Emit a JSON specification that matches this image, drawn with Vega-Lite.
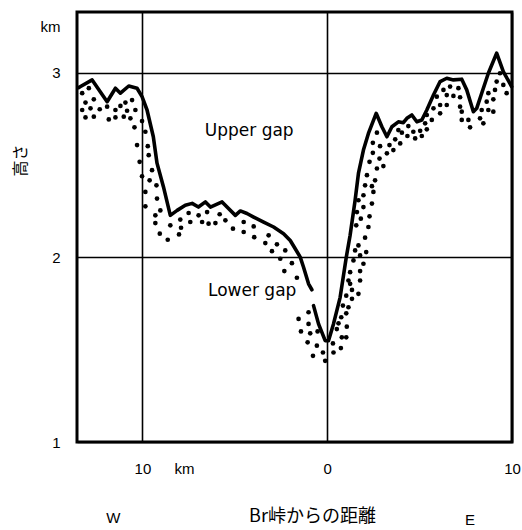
{
  "$schema": "https://vega.github.io/schema/vega-lite/v6.json",
  "autosize": {"type": "none"},
  "padding": {"left": 77, "top": 12, "right": 10, "bottom": 88},
  "width": 435,
  "height": 430,
  "background": "white",
  "config": {
    "view": {"stroke": "black", "strokeWidth": 3},
    "font": "Liberation Sans"
  },
  "datasets": {
    "profile": [
      {"x": -13.45, "h": 2.92, "seg": "a"}, {"x": -13.35, "h": 2.926, "seg": "a"}, {"x": -12.72, "h": 2.962, "seg": "a"}, {"x": -11.91, "h": 2.844, "seg": "a"},
      {"x": -11.46, "h": 2.917, "seg": "a"}, {"x": -11.19, "h": 2.89, "seg": "a"}, {"x": -10.74, "h": 2.929, "seg": "a"}, {"x": -10.29, "h": 2.917, "seg": "a"},
      {"x": -10.02, "h": 2.871, "seg": "a"}, {"x": -9.75, "h": 2.799, "seg": "a"}, {"x": -9.41, "h": 2.654, "seg": "a"}, {"x": -9.21, "h": 2.511, "seg": "a"},
      {"x": -8.86, "h": 2.382, "seg": "a"}, {"x": -8.49, "h": 2.228, "seg": "a"}, {"x": -8.12, "h": 2.255, "seg": "a"}, {"x": -7.68, "h": 2.283, "seg": "a"},
      {"x": -7.31, "h": 2.293, "seg": "a"}, {"x": -6.97, "h": 2.273, "seg": "a"}, {"x": -6.59, "h": 2.301, "seg": "a"}, {"x": -6.32, "h": 2.273, "seg": "a"},
      {"x": -5.69, "h": 2.301, "seg": "a"}, {"x": -5.34, "h": 2.265, "seg": "a"}, {"x": -4.97, "h": 2.228, "seg": "a"}, {"x": -4.7, "h": 2.252, "seg": "a"},
      {"x": -4.34, "h": 2.238, "seg": "a"}, {"x": -3.98, "h": 2.219, "seg": "a"}, {"x": -3.44, "h": 2.192, "seg": "a"}, {"x": -2.9, "h": 2.165, "seg": "a"},
      {"x": -2.36, "h": 2.129, "seg": "a"}, {"x": -2.0, "h": 2.092, "seg": "a"}, {"x": -1.73, "h": 2.047, "seg": "a"}, {"x": -1.46, "h": 2.002, "seg": "a"},
      {"x": -1.28, "h": 1.947, "seg": "a"}, {"x": -1.01, "h": 1.857, "seg": "a"}, {"x": -0.83, "h": 1.825, "seg": "a"},
      {"x": -0.74, "h": 1.739, "seg": "b"}, {"x": -0.47, "h": 1.64, "seg": "b"}, {"x": -0.11, "h": 1.549, "seg": "b"}, {"x": 0.07, "h": 1.549, "seg": "b"},
      {"x": 0.34, "h": 1.64, "seg": "b"}, {"x": 0.7, "h": 1.784, "seg": "b"}, {"x": 1.03, "h": 2.0, "seg": "b"}, {"x": 1.24, "h": 2.12, "seg": "b"},
      {"x": 1.51, "h": 2.31, "seg": "b"}, {"x": 1.69, "h": 2.455, "seg": "b"}, {"x": 1.96, "h": 2.582, "seg": "b"}, {"x": 2.23, "h": 2.672, "seg": "b"},
      {"x": 2.65, "h": 2.781, "seg": "b"}, {"x": 2.96, "h": 2.708, "seg": "b"}, {"x": 3.23, "h": 2.654, "seg": "b"}, {"x": 3.5, "h": 2.708, "seg": "b"},
      {"x": 3.85, "h": 2.735, "seg": "b"}, {"x": 4.12, "h": 2.73, "seg": "b"}, {"x": 4.31, "h": 2.754, "seg": "b"}, {"x": 4.58, "h": 2.772, "seg": "b"},
      {"x": 4.85, "h": 2.735, "seg": "b"}, {"x": 5.12, "h": 2.745, "seg": "b"}, {"x": 5.39, "h": 2.799, "seg": "b"}, {"x": 5.75, "h": 2.88, "seg": "b"},
      {"x": 6.11, "h": 2.953, "seg": "b"}, {"x": 6.47, "h": 2.971, "seg": "b"}, {"x": 6.83, "h": 2.962, "seg": "b"}, {"x": 7.28, "h": 2.966, "seg": "b"},
      {"x": 7.55, "h": 2.908, "seg": "b"}, {"x": 7.91, "h": 2.79, "seg": "b"}, {"x": 8.09, "h": 2.808, "seg": "b"}, {"x": 8.36, "h": 2.89, "seg": "b"},
      {"x": 8.72, "h": 2.998, "seg": "b"}, {"x": 9.17, "h": 3.107, "seg": "b"}, {"x": 9.53, "h": 3.007, "seg": "b"}, {"x": 9.98, "h": 2.926, "seg": "b"}
    ],
    "dots": [
      {"x": -12.9, "h": 2.917}, {"x": -13.26, "h": 2.89}, {"x": -12.63, "h": 2.857}, {"x": -13.08, "h": 2.839}, {"x": -13.26, "h": 2.799},
      {"x": -12.81, "h": 2.808}, {"x": -12.31, "h": 2.803}, {"x": -11.91, "h": 2.817}, {"x": -11.46, "h": 2.799}, {"x": -11.19, "h": 2.821},
      {"x": -10.92, "h": 2.839}, {"x": -10.56, "h": 2.853}, {"x": -10.83, "h": 2.795}, {"x": -10.38, "h": 2.799}, {"x": -13.08, "h": 2.759},
      {"x": -12.63, "h": 2.763}, {"x": -11.82, "h": 2.748}, {"x": -11.46, "h": 2.759}, {"x": -11.01, "h": 2.763}, {"x": -10.65, "h": 2.754},
      {"x": -10.02, "h": 2.739}, {"x": -10.43, "h": 2.705}, {"x": -9.84, "h": 2.681}, {"x": -10.29, "h": 2.609}, {"x": -9.71, "h": 2.603},
      {"x": -9.66, "h": 2.554}, {"x": -10.15, "h": 2.518}, {"x": -10.02, "h": 2.44}, {"x": -9.48, "h": 2.473}, {"x": -9.61, "h": 2.418},
      {"x": -9.24, "h": 2.391}, {"x": -9.84, "h": 2.355}, {"x": -9.21, "h": 2.319}, {"x": -9.84, "h": 2.277}, {"x": -9.03, "h": 2.255},
      {"x": -9.3, "h": 2.228}, {"x": -8.49, "h": 2.174}, {"x": -9.3, "h": 2.186}, {"x": -7.95, "h": 2.205}, {"x": -7.91, "h": 2.161},
      {"x": -9.06, "h": 2.129}, {"x": -8.63, "h": 2.096}, {"x": -7.5, "h": 2.241}, {"x": -7.41, "h": 2.192}, {"x": -6.96, "h": 2.228},
      {"x": -6.77, "h": 2.192}, {"x": -6.5, "h": 2.246}, {"x": -6.42, "h": 2.183}, {"x": -6.05, "h": 2.186}, {"x": -5.82, "h": 2.234},
      {"x": -5.51, "h": 2.201}, {"x": -5.1, "h": 2.156}, {"x": -4.52, "h": 2.192}, {"x": -4.52, "h": 2.138}, {"x": -3.98, "h": 2.168},
      {"x": -3.95, "h": 2.11}, {"x": -3.35, "h": 2.078}, {"x": -3.17, "h": 2.12}, {"x": -2.99, "h": 2.034}, {"x": -2.72, "h": 2.071},
      {"x": -2.27, "h": 2.038}, {"x": -2.54, "h": 1.993}, {"x": -1.91, "h": 1.969}, {"x": -2.32, "h": 1.926}, {"x": -1.64, "h": 1.89},
      {"x": -8.02, "h": 2.125},
      {"x": -1.01, "h": 1.703}, {"x": -1.55, "h": 1.667}, {"x": -1.01, "h": 1.64}, {"x": -1.42, "h": 1.599}, {"x": -0.92, "h": 1.589},
      {"x": -0.52, "h": 1.599}, {"x": -1.06, "h": 1.54}, {"x": -0.56, "h": 1.522}, {"x": -0.23, "h": 1.485}, {"x": -0.77, "h": 1.467},
      {"x": -0.11, "h": 1.44}, {"x": 0.34, "h": 1.485}, {"x": 0.74, "h": 1.509}, {"x": 0.31, "h": 1.534}, {"x": 0.79, "h": 1.567},
      {"x": 1.03, "h": 1.567}, {"x": 0.52, "h": 1.612}, {"x": 0.61, "h": 1.643}, {"x": 1.06, "h": 1.625}, {"x": 0.76, "h": 1.676},
      {"x": 1.03, "h": 1.697}, {"x": 0.85, "h": 1.739}, {"x": 1.15, "h": 1.73}, {"x": 1.03, "h": 1.793}, {"x": 1.34, "h": 1.776},
      {"x": 1.24, "h": 1.857}, {"x": 1.34, "h": 1.824}, {"x": 1.69, "h": 1.803}, {"x": 1.15, "h": 1.875}, {"x": 1.78, "h": 1.875},
      {"x": 1.24, "h": 1.92}, {"x": 1.78, "h": 1.926}, {"x": 1.42, "h": 1.984}, {"x": 1.78, "h": 2.011}, {"x": 1.96, "h": 1.966},
      {"x": 1.51, "h": 2.038}, {"x": 1.69, "h": 2.065},
      {"x": 2.11, "h": 2.029}, {"x": 2.05, "h": 2.107}, {"x": 1.57, "h": 2.174}, {"x": 2.23, "h": 2.165}, {"x": 1.82, "h": 2.21},
      {"x": 2.29, "h": 2.223}, {"x": 1.61, "h": 2.246}, {"x": 1.96, "h": 2.273}, {"x": 2.42, "h": 2.292}, {"x": 1.69, "h": 2.31},
      {"x": 1.96, "h": 2.337}, {"x": 2.5, "h": 2.355}, {"x": 2.05, "h": 2.391}, {"x": 2.42, "h": 2.386}, {"x": 2.59, "h": 2.418},
      {"x": 2.15, "h": 2.446}, {"x": 2.69, "h": 2.482}, {"x": 3.04, "h": 2.495}, {"x": 2.29, "h": 2.518}, {"x": 2.83, "h": 2.536},
      {"x": 2.47, "h": 2.567}, {"x": 3.23, "h": 2.564}, {"x": 2.86, "h": 2.603}, {"x": 2.47, "h": 2.621}, {"x": 2.69, "h": 2.676},
      {"x": 3.37, "h": 2.609}, {"x": 3.58, "h": 2.582}, {"x": 3.68, "h": 2.64}, {"x": 3.95, "h": 2.618}, {"x": 4.04, "h": 2.676},
      {"x": 3.85, "h": 2.69}, {"x": 4.34, "h": 2.658}, {"x": 4.39, "h": 2.712}, {"x": 4.66, "h": 2.681}, {"x": 4.76, "h": 2.645},
      {"x": 5.03, "h": 2.686}, {"x": 5.12, "h": 2.658}, {"x": 5.39, "h": 2.694}, {"x": 5.66, "h": 2.745}, {"x": 5.3, "h": 2.727},
      {"x": 5.39, "h": 2.772}, {"x": 5.75, "h": 2.808}, {"x": 6.11, "h": 2.781}, {"x": 6.11, "h": 2.826}, {"x": 5.93, "h": 2.871},
      {"x": 6.29, "h": 2.908}, {"x": 6.65, "h": 2.926}, {"x": 7.1, "h": 2.917}, {"x": 6.47, "h": 2.88}, {"x": 6.83, "h": 2.875},
      {"x": 7.19, "h": 2.868}, {"x": 6.47, "h": 2.826}, {"x": 7.19, "h": 2.817}, {"x": 7.28, "h": 2.79}, {"x": 7.64, "h": 2.745},
      {"x": 7.28, "h": 2.745}, {"x": 7.73, "h": 2.705}, {"x": 8.27, "h": 2.754}, {"x": 8.45, "h": 2.727}, {"x": 8.72, "h": 2.799},
      {"x": 8.36, "h": 2.799}, {"x": 8.63, "h": 2.844}, {"x": 8.99, "h": 2.857}, {"x": 8.72, "h": 2.89}, {"x": 9.08, "h": 2.908},
      {"x": 9.17, "h": 2.953}, {"x": 9.35, "h": 2.998}, {"x": 9.53, "h": 2.935}, {"x": 9.71, "h": 2.89}, {"x": 8.99, "h": 2.79}
    ],
    "gaps": [
      {"x": -4.22, "h": 2.687, "label": "Upper gap"},
      {"x": -4.06, "h": 1.819, "label": "Lower gap"}
    ],
    "sides": [
      {"x": -11.57, "h": 0.587, "label": "W"},
      {"x": 7.73, "h": 0.58, "label": "E"}
    ]
  },
  "encoding": {
    "x": {
      "field": "x", "type": "quantitative",
      "scale": {"domain": [-13.54, 10], "nice": false, "zero": false},
      "axis": {
        "values": [-10, -7.75, 0, 10],
        "labelExpr": "datum.value == -7.75 ? 'km' : format(abs(datum.value), 'd')",
        "ticks": false, "domain": false,
        "grid": true, "gridColor": "black", "gridWidth": 1.6,
        "gridOpacity": {"condition": {"test": "datum.value == -7.75", "value": 0}, "value": 1},
        "labelFontSize": 15, "labelColor": "black", "labelPadding": 19,
        "labelOverlap": false, "labelFlush": false, "labelBound": false,
        "title": "Br峠からの距離", "titleFont": "Noto Sans CJK JP", "titleFontSize": 18,
        "titleFontWeight": "normal", "titleColor": "black",
        "titleX": 235, "titleY": 74, "titleBaseline": "middle", "titleAnchor": "middle"
      }
    },
    "y": {
      "field": "h", "type": "quantitative",
      "scale": {"domain": [1.0, 3.33], "nice": false, "zero": false},
      "axis": {
        "values": [1, 2, 3, 3.25],
        "labelExpr": "datum.value > 3.1 ? 'km' : format(datum.value, 'd')",
        "ticks": false, "domain": false,
        "grid": true, "gridColor": "black", "gridWidth": 1.6,
        "gridOpacity": {"condition": {"test": "datum.value > 3.1", "value": 0}, "value": 1},
        "labelFontSize": 15, "labelColor": "black", "labelPadding": 17,
        "labelOverlap": false, "labelFlush": false, "labelBound": false,
        "title": "高さ", "titleFont": "Noto Sans CJK JP", "titleFontSize": 16,
        "titleFontWeight": "normal", "titleColor": "black",
        "titleX": -57, "titleY": 148, "titleAngle": -90, "titleBaseline": "middle", "titleAnchor": "middle"
      }
    }
  },
  "layer": [
    {
      "data": {"name": "dots"},
      "mark": {"type": "point", "filled": true, "shape": "circle", "size": 22, "color": "black", "opacity": 1}
    },
    {
      "data": {"name": "profile"},
      "mark": {"type": "line", "color": "black", "strokeWidth": 3.6, "strokeJoin": "round", "strokeCap": "round"},
      "encoding": {"detail": {"field": "seg"}}
    },
    {
      "data": {"name": "gaps"},
      "mark": {"type": "text", "fontSize": 17, "color": "black", "align": "center", "baseline": "middle", "font": "DejaVu Sans"},
      "encoding": {"text": {"field": "label"}}
    },
    {
      "data": {"name": "sides"},
      "mark": {"type": "text", "fontSize": 15, "color": "black", "align": "center", "baseline": "middle", "font": "Liberation Sans", "clip": false},
      "encoding": {"text": {"field": "label"}}
    }
  ]
}
